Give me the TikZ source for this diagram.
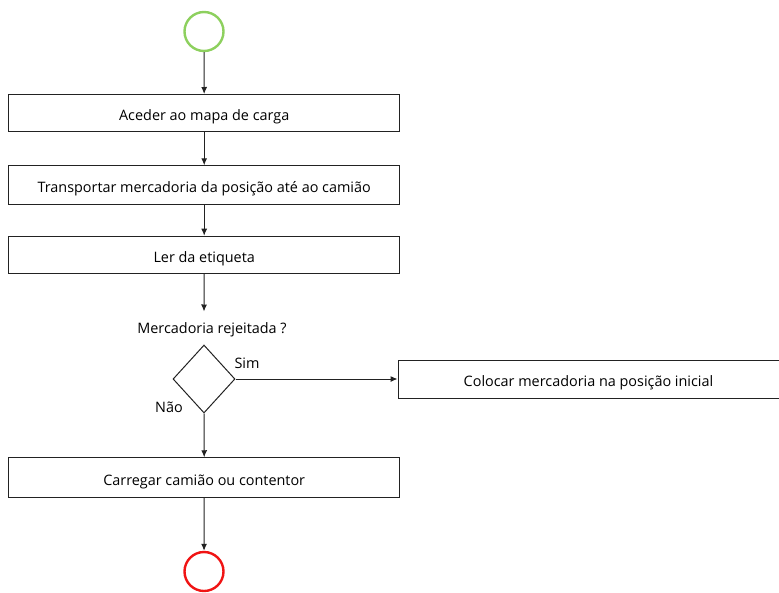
\documentclass[tikz,border=0pt]{standalone}
\usepackage{fontspec}
\setmainfont{Open Sans}
\usetikzlibrary{arrows.meta,shapes.geometric}
\definecolor{startgreen}{HTML}{8DD05E}
\definecolor{endred}{HTML}{F01414}
\definecolor{edge}{HTML}{222222}
\begin{document}
\begin{tikzpicture}[x=1pt,y=-1pt,
  font=\fontsize{14.4}{16}\selectfont,
  actionbox/.style={draw=edge,line width=1pt,minimum width=391pt,minimum height=37pt,inner sep=0pt,text height=15.5pt,text depth=0pt},
  startnode/.style={circle,draw=startgreen,line width=2.4pt,minimum size=39pt,inner sep=0pt},
  endnode/.style={circle,draw=endred,line width=2.4pt,minimum size=39pt,inner sep=0pt},
  decision/.style={diamond,draw=edge,line width=1pt,minimum width=62pt,minimum height=68pt,inner sep=0pt,shape aspect=0.91},
  caption/.style={inner sep=0pt,text height=10pt,text depth=3pt},
  flow/.style={draw=edge,line width=1pt,-{Latex[length=7pt,width=6pt]}}]
\useasboundingbox (0,0) rectangle (779,592);
% start and end events
\node[startnode] (start) at (204,31.5) {};
\node[endnode] (finish) at (204,571.5) {};
% activities
\node[actionbox] (access) at (204.2,113) {Aceder ao mapa de carga};
\node[actionbox,minimum height=38.5pt] (carry) at (204.2,185) {Transportar mercadoria da posição até ao camião};
\node[actionbox] (read) at (204.2,254.7) {Ler da etiqueta};
\node[actionbox,minimum height=39.5pt] (load) at (204.2,477.5) {Carregar camião ou contentor};
\node[actionbox,minimum width=381pt,minimum height=38pt] (back) at (588.5,379) {Colocar mercadoria na posição inicial};
% decision
\node[caption] (question) at (212,330) {Mercadoria rejeitada ?};
\node[decision] (check) at (204,379) {};
\node[caption] (yes) at (247,364.5) {Sim};
\node[caption] (no) at (169,409) {Não};
\coordinate (qtop) at (204,311.5);
% connectors
\path[flow] (start) -- (access);
\path[flow] (access) -- (carry);
\path[flow] (carry) -- (read);
\path[flow] (read.south) -- (qtop);
\path[flow] (check.east) -- (back.west);
\path[flow] (check.south) -- (load.north);
\path[flow] (load) -- (finish);
\end{tikzpicture}
\end{document}
